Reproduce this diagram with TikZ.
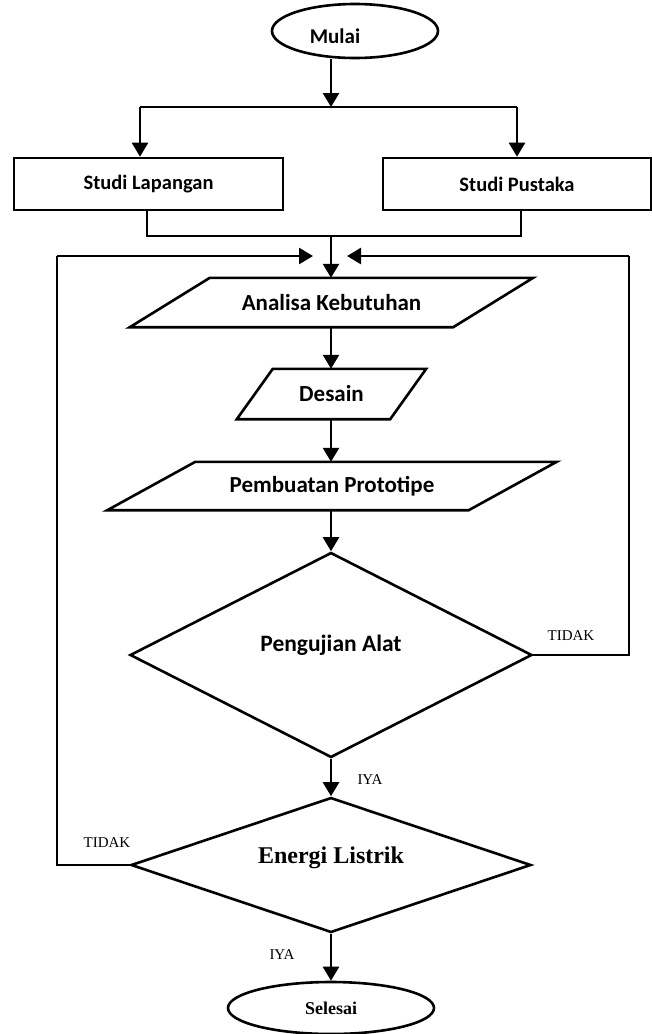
\documentclass[tikz,border=0pt]{standalone}
\usepackage{fontspec}
\setmainfont{Liberation Serif}
\newfontfamily\carlito{Carlito}
\usetikzlibrary{arrows.meta,positioning,shapes.geometric}
\tikzset{
  term/.style={draw,ellipse,line width=2.6pt,inner sep=0pt},
  box/.style={draw,rectangle,line width=2.6pt,inner sep=0pt,
    font=\carlito\bfseries\fontsize{20.5}{24}\selectfont},
  io/.style={rectangle,inner sep=0pt,
    font=\carlito\bfseries\fontsize{23}{27}\selectfont},
  decision/.style={draw,diamond,line width=2.6pt,inner sep=0pt},
  arr/.style={-{Triangle[width=16pt,length=14pt]},line width=2.6pt},
  thickline/.style={line width=2.6pt,line join=miter},
  thinline/.style={line width=1.3pt},
  note/.style={font=\fontsize{15}{17}\selectfont,inner sep=0pt},
}
% slanted frame round a named node: #1 node, #2 half the slant
\newcommand{\slantframe}[2]{%
  \draw[thickline] ([xshift=-#2]#1.south west) -- ([xshift=#2]#1.north west)
    -- ([xshift=#2]#1.north east) -- ([xshift=-#2]#1.south east) -- cycle;}
\begin{document}
\begin{tikzpicture}[x=1pt,y=-1pt]
  \useasboundingbox (0,0) rectangle (652,1034);
  % start and the two studies
  \node[term,minimum width=166pt,minimum height=54pt] (mulai) at (355,31) {};
  \node[font=\carlito\bfseries\fontsize{21}{24}\selectfont,inner sep=0pt] (mulaitxt) at (335,36) {Mulai};
  \node[box,minimum width=269pt,minimum height=52pt] (lapangan) at (148.5,184) {Studi Lapangan};
  \node[box,minimum width=268pt,minimum height=52pt] (pustaka) at (517,184) {Studi Pustaka};
  \coordinate (split) at (331,107);
  \coordinate (splitl) at (140,107);
  \coordinate (splitr) at (517,107);
  \coordinate (join) at (331,236);
  \coordinate (joinl) at (147,236);
  \coordinate (joinr) at (521,236);
  % main column
  \node[io,minimum width=323pt,minimum height=49pt] (analisa) at (331.5,302.5) {Analisa Kebutuhan};
  \slantframe{analisa}{40pt}
  \node[io,minimum width=153pt,minimum height=50pt] (desain) at (331.5,394) {Desain};
  \slantframe{desain}{18pt}
  \node[io,minimum width=361pt,minimum height=48pt] (prototipe) at (332,486) {Pembuatan Prototipe};
  \slantframe{prototipe}{44pt}
  \node[decision,minimum width=402pt,minimum height=205pt,text depth=24pt,
    font=\carlito\bfseries\fontsize{23.5}{27}\selectfont] (pengujian) at (331,655) {Pengujian Alat};
  \node[decision,aspect=3,minimum width=400pt,minimum height=135pt,text depth=20pt,
    font=\bfseries\fontsize{24}{28}\selectfont] (energi) at (331,865) {Energi Listrik};
  \node[term,minimum width=206pt,minimum height=52pt,
    font=\bfseries\fontsize{18}{20}\selectfont] (selesai) at (331,1008) {Selesai};
  % loop corners
  \coordinate (loopl) at (57,256);
  \coordinate (loopr) at (629,256);
  \coordinate (tipl) at (313,256);
  \coordinate (tipr) at (347,256);
  % labels
  \node[note] (iya1) at (370,780) {IYA};
  \node[note] (iya2) at (282,955) {IYA};
  \node[note] (tidak1) at (571,636) {TIDAK};
  \node[note] (tidak2) at (107,843) {TIDAK};
  % connectors
  \draw[arr] (mulai.south -| split) -- (split);
  \draw[thickline] (splitl) -- (splitr);
  \draw[arr] (splitl) -- (splitl |- lapangan.north);
  \draw[arr] (splitr) -- (splitr |- pustaka.north);
  \draw[thinline] (lapangan.south -| joinl) -- (joinl) -- (joinr) -- (pustaka.south -| joinr);
  \draw[arr] (join) -- (join |- analisa.north);
  \draw[arr] (analisa.south -| join) -- (desain.north -| join);
  \draw[arr] (desain.south -| join) -- (prototipe.north -| join);
  \draw[arr] (prototipe.south -| join) -- (pengujian.north);
  \draw[arr] (pengujian) -- (energi);
  \draw[arr] (energi) -- (selesai);
  \draw[thinline] (pengujian.east) -- (loopr |- pengujian.east) -- (loopr);
  \draw[arr] (loopr) -- (tipr);
  \draw[thinline] (energi.west) -- (loopl |- energi.west) -- (loopl);
  \draw[arr] (loopl) -- (tipl);
\end{tikzpicture}
\end{document}
